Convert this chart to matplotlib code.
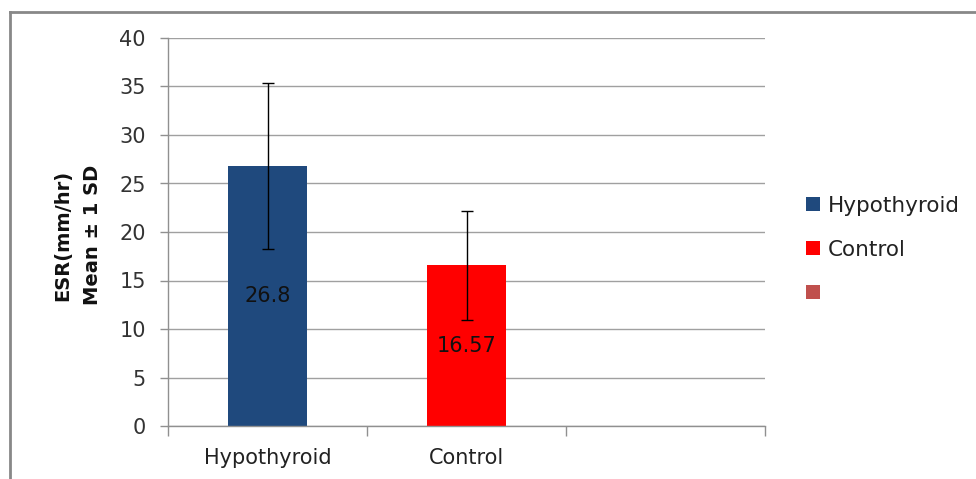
import numpy as np
import matplotlib
matplotlib.use('Agg')
import matplotlib.pyplot as plt
from matplotlib.lines import Line2D
from matplotlib.patches import Patch

plt.rcParams['font.family'] = ['DejaVu Sans']

# ── data ──────────────────────────────────────────────────────────────
categories = ['Hypothyroid', 'Control', '']
means = [26.8, 16.57]
sds = [8.56, 5.63]
value_labels = ['26.8', '16.57']
series_names = ['Hypothyroid', 'Control', ' ']
colors = ['#1F497D', '#FF0000', '#C0504D']

fig = plt.figure(figsize=(9.76, 4.79), dpi=100)
ax = fig.add_axes([168 / 976, 53 / 479, (765 - 168) / 976, (426 - 38) / 479])

x = np.arange(len(means)) + 0.5
ax.bar(x, means, width=0.395, color=colors[:2], zorder=2)
ax.errorbar(x, means, yerr=sds, fmt='none', ecolor='black', elinewidth=1,
            capsize=4.5, capthick=1, zorder=3)
for xi, m, lab in zip(x, means, value_labels):
    ax.text(xi, m / 2, lab, ha='center', va='center', fontsize=15,
            color='#111111', zorder=4)

ax.set_xlim(0, 3)
ax.set_ylim(0, 40)
ax.set_yticks(np.arange(0, 41, 5))
ax.yaxis.grid(True, color='#a0a0a0', linewidth=1)
ax.set_axisbelow(True)

ax.set_xticks(np.arange(len(categories)) + 0.5)
ax.set_xticklabels(categories)
ax.set_xticks(np.arange(0, 4), minor=True)
ax.tick_params(axis='x', which='major', length=0, pad=16, labelsize=15,
               labelcolor='#222222')
ax.tick_params(axis='x', which='minor', length=7, color='#909090', width=1)
ax.tick_params(axis='y', length=6, color='#909090', width=1, pad=10,
               labelsize=15, labelcolor='#333333')

for s in ['top', 'right']:
    ax.spines[s].set_visible(False)
for s in ['left', 'bottom']:
    ax.spines[s].set_color('#909090')
    ax.spines[s].set_linewidth(1)

fig.text(63 / 976, 1 - 235 / 479, 'ESR(mm/hr)', rotation=90, ha='center',
         va='center', fontsize=14, fontweight='bold', color='#111111')
fig.text(93 / 976, 1 - 235 / 479, 'Mean \u00b1 1 SD', rotation=90, ha='center',
         va='center', fontsize=14, fontweight='bold', color='#111111')

handles = [Patch(facecolor=c, edgecolor='none') for c in colors]
fig.legend(handles, series_names, loc='upper left',
           bbox_to_anchor=(806 / 976, 1 - 196 / 479), frameon=False,
           borderpad=0, borderaxespad=0,
           fontsize=15.5, handlelength=0.63, handleheight=0.63,
           handletextpad=0.4, labelspacing=1.1, labelcolor='#222222')

# outer frame (left and top edges)
fig.add_artist(Line2D([10 / 976, 10 / 976], [0, 1 - 12 / 479],
                      transform=fig.transFigure, color='#888888', linewidth=2))
fig.add_artist(Line2D([10 / 976, 1], [1 - 12 / 479, 1 - 12 / 479],
                      transform=fig.transFigure, color='#888888', linewidth=2))

fig.savefig('out.png', dpi=100, facecolor='white')
